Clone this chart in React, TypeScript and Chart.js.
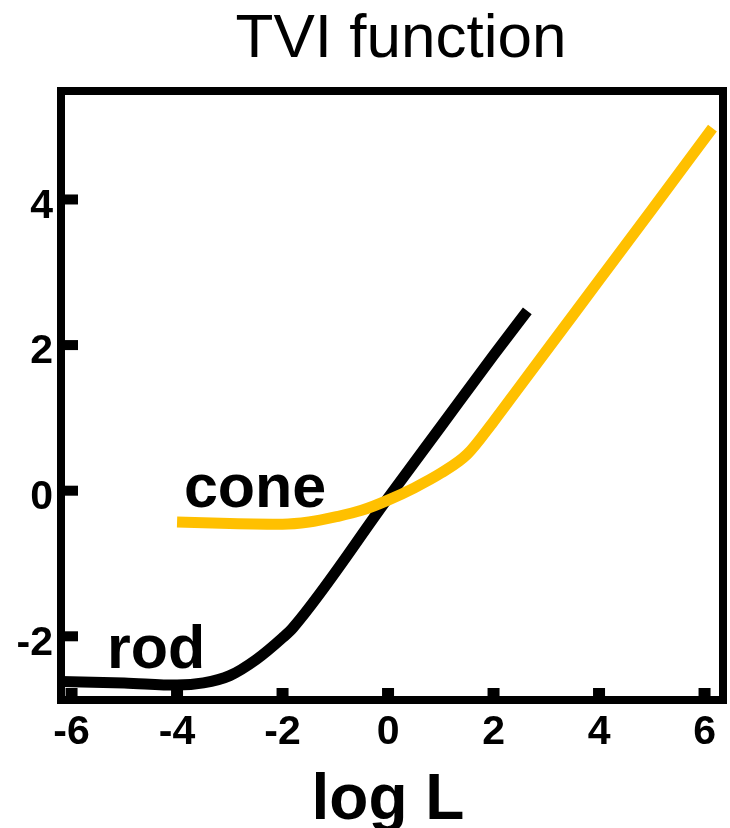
import { useEffect, useRef } from 'react';
import { Chart, registerables } from 'chart.js';

Chart.register(...registerables);

// Threshold-versus-intensity curves (log units)
const rodLogL = [-6.2, -5, -4, -3.5, -3, -2.5, -2, -1.8, 0, 1, 2, 2.64];
const rodThreshold = [-2.62, -2.64, -2.67, -2.64, -2.54, -2.32, -2.02, -1.88, -0.1, 0.88, 1.86, 2.47];

const coneLogL = [-4, -3, -2, -1.5, -1, -0.5, 0, 0.5, 1, 1.5, 2, 2.5, 3, 4, 5, 6.15];
const coneThreshold = [-0.43, -0.45, -0.46, -0.43, -0.36, -0.27, -0.13, 0.04, 0.24, 0.5, 0.95, 1.435, 1.92, 2.89, 3.86, 4.98];

const xTickValues = [-6, -4, -2, 0, 2, 4, 6];
const yTickValues = [-2, 0, 2, 4];

const titleText = 'TVI function';
const xAxisText = 'log L';
const rodLabel = 'rod';
const coneLabel = 'cone';
// anchor (left, baseline) of the curve labels, in data units
const rodLabelAt = [-5.33, -2.44];
const coneLabelAt = [-3.87, -0.22];

const FONT = '"Liberation Sans", Arial, Helvetica, sans-serif';
const CONE_COLOR = '#FFC000';

const framePlugin = {
  id: 'tviFrame',
  afterDatasetsDraw(chart: any) {
    const { ctx, chartArea } = chart;
    const { left, right, top, bottom } = chartArea;
    const xs = chart.scales.x;
    const ys = chart.scales.y;
    const frameW = 8;
    ctx.save();
    // inward tick marks
    ctx.fillStyle = '#000';
    yTickValues.forEach((v) => {
      const py = ys.getPixelForValue(v);
      ctx.fillRect(left + frameW / 2, py - 5, 13, 10);
    });
    xTickValues.forEach((v) => {
      const px = xs.getPixelForValue(v);
      ctx.fillRect(px - 6, bottom - frameW / 2 - 8, 12, 8);
    });
    // frame
    ctx.strokeStyle = '#000';
    ctx.lineWidth = frameW;
    ctx.lineJoin = 'miter';
    ctx.strokeRect(left, top, right - left, bottom - top);

    // curve labels
    ctx.fillStyle = '#000';
    ctx.textAlign = 'left';
    ctx.textBaseline = 'alphabetic';
    ctx.font = `bold 61px ${FONT}`;
    ctx.fillText(rodLabel, xs.getPixelForValue(rodLabelAt[0]), ys.getPixelForValue(rodLabelAt[1]));
    ctx.fillText(coneLabel, xs.getPixelForValue(coneLabelAt[0]), ys.getPixelForValue(coneLabelAt[1]));

    // title and axis label
    ctx.textAlign = 'center';
    ctx.font = `62px ${FONT}`;
    ctx.fillText(titleText, 401, 57);
    ctx.font = `bold 64px ${FONT}`;
    ctx.fillText(xAxisText, (left + right) / 2 - 4, 819);
    ctx.restore();
  },
};

export default function App() {
  const canvasRef = useRef<HTMLCanvasElement | null>(null);

  useEffect(() => {
    document.body.style.margin = '0';
    const canvas = canvasRef.current;
    if (!canvas) return;
    const chart = new Chart(canvas, {
      type: 'line',
      data: {
        datasets: [
          {
            label: 'cone',
            data: coneLogL.map((x, i) => ({ x, y: coneThreshold[i] })),
            borderColor: CONE_COLOR,
            borderWidth: 11,
            pointRadius: 0,
            borderCapStyle: 'butt',
            borderJoinStyle: 'round',
            cubicInterpolationMode: 'monotone',
            fill: false,
          },
          {
            label: 'rod',
            data: rodLogL.map((x, i) => ({ x, y: rodThreshold[i] })),
            borderColor: '#000000',
            borderWidth: 11,
            pointRadius: 0,
            borderCapStyle: 'butt',
            borderJoinStyle: 'round',
            cubicInterpolationMode: 'monotone',
            fill: false,
          },
        ],
      },
      options: {
        animation: false,
        responsive: false,
        events: [],
        layout: { padding: { left: 0, top: 91, right: 7, bottom: 0 } },
        plugins: {
          legend: { display: false },
          tooltip: { enabled: false },
          title: { display: false },
        },
        scales: {
          x: {
            type: 'linear',
            min: -6.2,
            max: 6.35,
            afterBuildTicks: (scale: any) => {
              scale.ticks = xTickValues.map((value) => ({ value }));
            },
            afterFit: (scale: any) => {
              scale.height = 128;
            },
            grid: { display: false, drawTicks: false },
            border: { display: false },
            ticks: {
              color: '#000',
              padding: 8,
              maxRotation: 0,
              autoSkip: false,
              font: { family: FONT, size: 41, weight: 'bold' },
            },
          },
          y: {
            type: 'linear',
            min: -2.875,
            max: 5.49,
            afterBuildTicks: (scale: any) => {
              scale.ticks = yTickValues.map((value) => ({ value }));
            },
            afterFit: (scale: any) => {
              scale.width = 61;
            },
            grid: { display: false, drawTicks: false },
            border: { display: false },
            ticks: {
              color: '#000',
              padding: 8,
              labelOffset: 7,
              autoSkip: false,
              font: { family: FONT, size: 41, weight: 'bold' },
            },
          },
        },
      },
      plugins: [framePlugin],
    } as any);
    return () => chart.destroy();
  }, []);

  return (
    <div style={{ width: 730, height: 828 }}>
      <canvas ref={canvasRef} width={730} height={828} style={{ display: 'block' }} />
    </div>
  );
}
